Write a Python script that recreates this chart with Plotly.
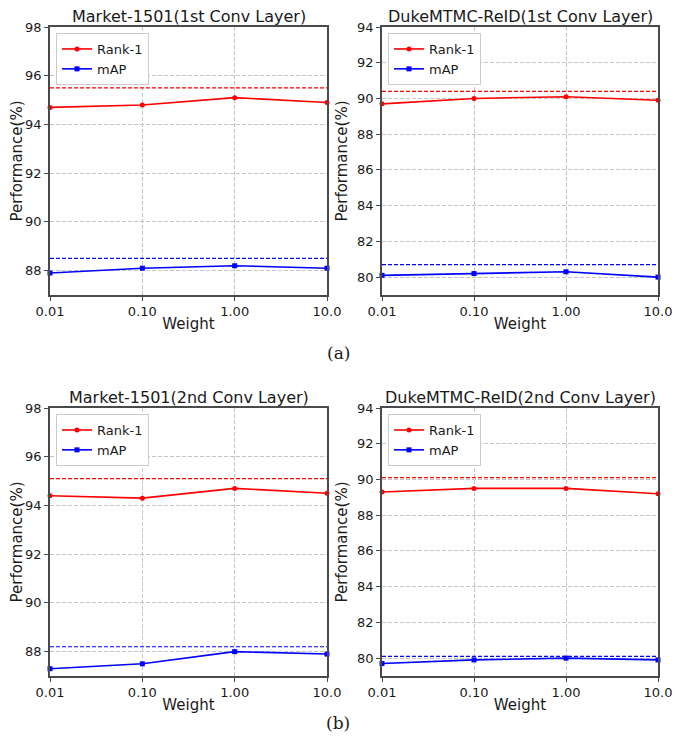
import plotly.graph_objects as go

weights = [0.01, 0.1, 1.0, 10.0]
tick_labels = ["0.01", "0.10", "1.00", "10.0"]

titles = ["Market-1501(1st Conv Layer)", "DukeMTMC-ReID(1st Conv Layer)",
          "Market-1501(2nd Conv Layer)", "DukeMTMC-ReID(2nd Conv Layer)"]

market1_rank1 = [94.7, 94.8, 95.1, 94.9]
market1_map = [87.9, 88.1, 88.2, 88.1]
market1_rank1_base = 95.5
market1_map_base = 88.5

duke1_rank1 = [89.7, 90.0, 90.1, 89.9]
duke1_map = [80.1, 80.2, 80.3, 80.0]
duke1_rank1_base = 90.4
duke1_map_base = 80.7

market2_rank1 = [94.4, 94.3, 94.7, 94.5]
market2_map = [87.3, 87.5, 88.0, 87.9]
market2_rank1_base = 95.1
market2_map_base = 88.2

duke2_rank1 = [89.3, 89.5, 89.5, 89.2]
duke2_map = [79.7, 79.9, 80.0, 79.9]
duke2_rank1_base = 90.1
duke2_map_base = 80.1

y_ranges = [[87, 98], [79, 94], [87, 98], [79, 94]]
y_ticks = [[88, 90, 92, 94, 96, 98], [80, 82, 84, 86, 88, 90, 92, 94],
           [88, 90, 92, 94, 96, 98], [80, 82, 84, 86, 88, 90, 92, 94]]

panels = [
    (market1_rank1, market1_map, market1_rank1_base, market1_map_base),
    (duke1_rank1, duke1_map, duke1_rank1_base, duke1_map_base),
    (market2_rank1, market2_map, market2_rank1_base, market2_map_base),
    (duke2_rank1, duke2_map, duke2_rank1_base, duke2_map_base),
]

OFF = 8  # page body margin
W, H = 684 - OFF, 746 - OFF
# plot-area pixel boxes in window coordinates (left, right, top, bottom)
boxes = [(50, 327, 27, 295), (382, 658, 27, 295),
         (50, 327, 408, 676), (382, 658, 408, 676)]


def px(x):
    return (x - OFF) / W


def py(y):
    return 1 - (y - OFF) / H


FONT = "DejaVu Sans"
TXT = "#1a1a1a"
fig = go.Figure()
layout = dict(
    width=W, height=H, margin=dict(l=0, r=0, t=0, b=0, autoexpand=False),
    paper_bgcolor="white", plot_bgcolor="white",
    font=dict(family=FONT, color=TXT, size=13),
    annotations=[],
)

for i, (r1, mp, r1b, mpb) in enumerate(panels):
    n = "" if i == 0 else str(i + 1)
    xa, ya = "x" + n, "y" + n
    leg = "legend" + n
    l, r, t, b = boxes[i]
    xd = [px(l), px(r)]
    yd = [py(b), py(t)]

    fig.add_trace(go.Scatter(x=weights, y=[r1b] * len(weights), mode="lines",
                             line=dict(color="red", width=1.2, dash="4px,2px"),
                             showlegend=False, xaxis=xa, yaxis=ya, hoverinfo="skip"))
    fig.add_trace(go.Scatter(x=weights, y=[mpb] * len(weights), mode="lines",
                             line=dict(color="blue", width=1.2, dash="4px,2px"),
                             showlegend=False, xaxis=xa, yaxis=ya, hoverinfo="skip"))
    fig.add_trace(go.Scatter(x=weights, y=r1, mode="lines+markers", name="Rank-1",
                             line=dict(color="red", width=1.6),
                             marker=dict(symbol="circle", size=5, color="red"),
                             xaxis=xa, yaxis=ya, legend=leg, cliponaxis=False))
    fig.add_trace(go.Scatter(x=weights, y=mp, mode="lines+markers", name="mAP",
                             line=dict(color="blue", width=1.6),
                             marker=dict(symbol="square", size=5, color="blue"),
                             xaxis=xa, yaxis=ya, legend=leg, cliponaxis=False))

    axcommon = dict(showline=True, linecolor="#4a4a4a", linewidth=1.5, mirror=True,
                    ticks="outside", ticklen=4, tickcolor="#4a4a4a",
                    showgrid=True, gridcolor="#c4c4c4", griddash="4px,2px", gridwidth=1,
                    zeroline=False, tickfont=dict(size=13, family=FONT, color=TXT),
                    automargin=False)
    layout["xaxis" + n] = dict(axcommon, type="log", range=[-2, 1], domain=xd,
                               anchor=ya, tickvals=weights, ticktext=tick_labels,
                               title=dict(text="Weight", font=dict(size=15, family=FONT, color=TXT),
                                          standoff=0))
    layout["yaxis" + n] = dict(axcommon, range=y_ranges[i], domain=yd, anchor=xa,
                               tickvals=y_ticks[i],
                               title=dict(text="Performance(%)", font=dict(size=15, family=FONT, color=TXT),
                                          standoff=6))
    layout[leg] = dict(x=px(l + 6), y=py(t + 6), xanchor="left", yanchor="top",
                       bgcolor="white", bordercolor="#cccccc", borderwidth=1,
                       font=dict(size=13, family=FONT, color=TXT), tracegroupgap=0, itemwidth=30)
    layout["annotations"].append(dict(
        text=titles[i], x=(px(l) + px(r)) / 2, y=py(t), xref="paper", yref="paper",
        xanchor="center", yanchor="bottom", showarrow=False, yshift=-1,
        font=dict(size=16, family=FONT, color=TXT)))

layout["annotations"].append(dict(text="(a)", x=px(338), y=py(353), xref="paper", yref="paper",
                                  showarrow=False, font=dict(size=17, family="DejaVu Serif", color=TXT)))
layout["annotations"].append(dict(text="(b)", x=px(338), y=py(735), xref="paper", yref="paper",
                                  showarrow=False, font=dict(size=17, family="DejaVu Serif", color=TXT)))

fig.update_layout(**layout)
fig.write_html("out.html")
